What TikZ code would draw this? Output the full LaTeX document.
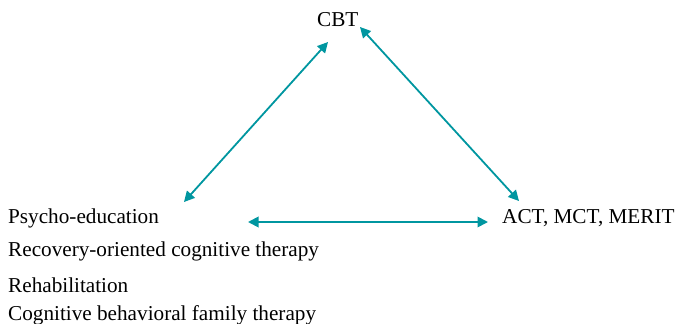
\documentclass[tikz,border=0pt]{standalone}
\usepackage{fontspec}
\setmainfont{Liberation Serif}
\usetikzlibrary{arrows.meta}
\definecolor{teal1}{RGB}{0,150,160}
\tikzset{
  lbl/.style={anchor=base west, inner sep=0pt, font=\fontsize{21.2}{24}\selectfont},
  link/.style={draw=teal1, line width=1.8pt,
    {Triangle[length=10.5pt,width=10.5pt]}-{Triangle[length=10.5pt,width=10.5pt]}}
}
\begin{document}
\begin{tikzpicture}[x=1pt,y=-1pt]
\useasboundingbox (0,0) rectangle (678,324);
% therapy labels
\node[lbl] (cbt) at (317,27) {CBT};
\node[lbl] (act) at (502,223) {ACT, MCT, MERIT};
\node[lbl] (psy) at (8,223) {Psycho-education};
\node[lbl] (rec) at (8,256) {Recovery-oriented cognitive therapy};
\node[lbl] (reh) at (8,292) {Rehabilitation};
\node[lbl] (cog) at (8,320) {Cognitive behavioral family therapy};
% arrow end points
\coordinate (cbtL) at (328,42);
\coordinate (grpT) at (184,202);
\coordinate (cbtR) at (360,27);
\coordinate (actT) at (519,201);
\coordinate (grpR) at (248,222);
\coordinate (actL) at (488,222);
% connectors
\draw[link] (grpT) -- (cbtL);
\draw[link] (cbtR) -- (actT);
\draw[link] (grpR) -- (actL);
\end{tikzpicture}
\end{document}
